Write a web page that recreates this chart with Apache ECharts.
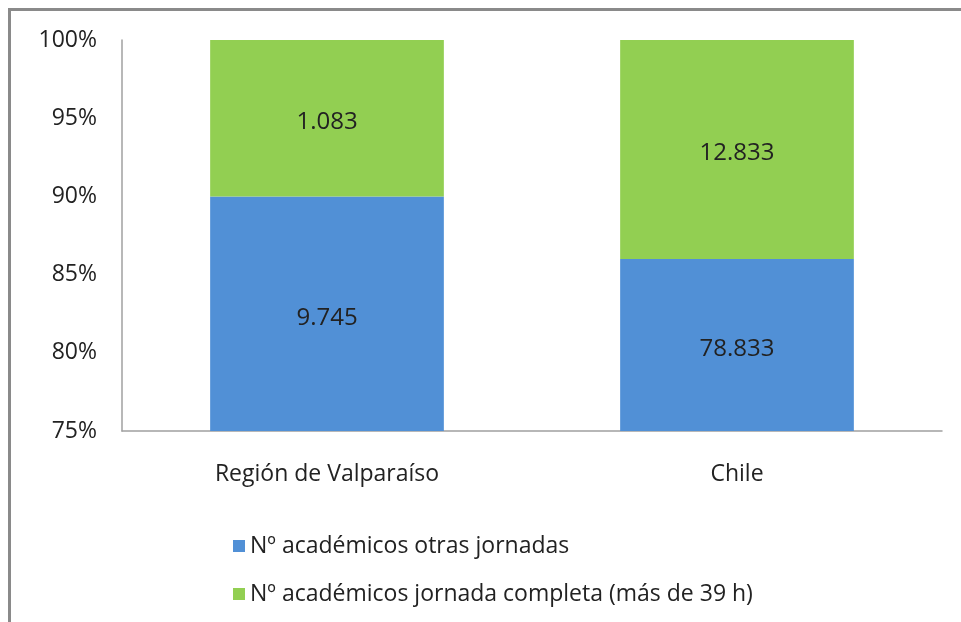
<!DOCTYPE html>
<html>
<head>
<meta charset="utf-8">
<script src="https://cdn.jsdelivr.net/npm/echarts@6/dist/echarts.min.js"></script>
<style>
  body { margin: 0; background: #fff; }
  #frame {
    position: absolute; left: 8px; top: 8px; width: 960px; height: 620px;
    border-top: 3px solid #8a8a8a; border-left: 3px solid #8a8a8a;
  }
  #chart { position: absolute; left: 0; top: 0; width: 961px; height: 622px; }
</style>
</head>
<body>
<div id="frame"></div>
<div id="chart"></div>
<script>
const categories = ['Región de Valparaíso', 'Chile'];
const otrasJornadas = [9745, 78833];
const jornadaCompleta = [1083, 12833];
const seriesNames = ['Nº académicos otras jornadas', 'Nº académicos jornada completa (más de 39 h)'];

const fontFam = 'Open Sans';

function pct(arr, i) {
    return arr[i] / (otrasJornadas[i] + jornadaCompleta[i]) * 100;
}
function fmt(n) {
    return String(n).replace(/\B(?=(\d{3})+(?!\d))/g, '.');
}

const myChart = echarts.init(document.getElementById('chart'), null, { renderer: 'canvas' });

const option = {
    animation: false,
    textStyle: { fontFamily: fontFam },
    grid: { left: 122, right: 19, top: 40, bottom: 191 },
    legend: {
        orient: 'vertical',
        left: 228,
        top: 529,
        itemWidth: 12,
        itemHeight: 12,
        itemGap: 24,
        icon: 'rect',
        textStyle: { fontSize: 23, color: '#222', fontFamily: fontFam, lineHeight: 24 },
        data: seriesNames
    },
    xAxis: {
        type: 'category',
        data: categories,
        axisLine: { lineStyle: { color: '#a0a0a0', width: 1.5 } },
        axisTick: { show: false },
        axisLabel: { fontSize: 23, color: '#222', margin: 32 }
    },
    yAxis: {
        type: 'value',
        min: 75,
        max: 100,
        interval: 5,
        splitLine: { show: false },
        axisLine: { show: true, lineStyle: { color: '#a0a0a0', width: 1.5 } },
        axisTick: { show: false },
        axisLabel: { fontSize: 23, color: '#222', margin: 25, padding: [6, 0, 0, 0], formatter: '{value}%' }
    },
    series: [
        {
            name: seriesNames[0],
            type: 'bar',
            stack: 'total',
            barWidth: '57%',
            itemStyle: { color: '#5190d6' },
            label: {
                show: true, position: 'inside', offset: [0, 4], fontSize: 24, color: '#222',
                formatter: p => fmt(otrasJornadas[p.dataIndex])
            },
            data: categories.map((c, i) => pct(otrasJornadas, i))
        },
        {
            name: seriesNames[1],
            type: 'bar',
            stack: 'total',
            itemStyle: { color: '#92cf52' },
            label: {
                show: true, position: 'inside', offset: [0, 4], fontSize: 24, color: '#222',
                formatter: p => fmt(jornadaCompleta[p.dataIndex])
            },
            data: categories.map((c, i) => pct(jornadaCompleta, i))
        }
    ]
};
myChart.setOption(option);
</script>
</body>
</html>
